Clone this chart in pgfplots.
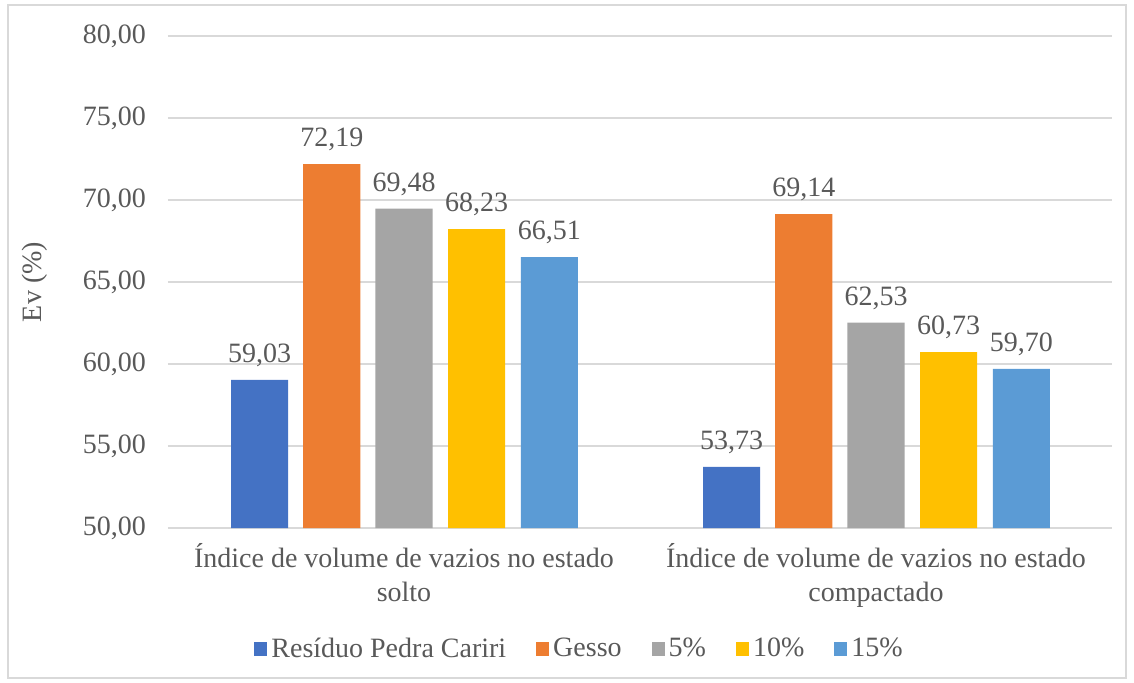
\documentclass[border=0pt]{standalone}
\usepackage{pgfplots}
\pgfplotsset{compat=1.18}
\usepackage{fontspec}
\setmainfont{Liberation Serif}
\definecolor{c1}{HTML}{4472C4}
\definecolor{c2}{HTML}{ED7D31}
\definecolor{c3}{HTML}{A5A5A5}
\definecolor{c4}{HTML}{FFC000}
\definecolor{c5}{HTML}{5B9BD5}
\definecolor{txt}{RGB}{89,89,89}
\definecolor{grd}{RGB}{217,217,217}
\newcommand{\fs}{\fontsize{14}{17}\selectfont}
\begin{document}
\begin{tikzpicture}
\useasboundingbox (-84pt,-77pt) rectangle (483pt,264pt);
\draw[grd, line width=0.8pt] (-80pt,-75pt) rectangle (479pt,261.5pt);
\begin{axis}[
  scale only axis, width=472pt, height=246pt,
  xmin=-0.5, xmax=1.5, ymin=50, ymax=80,
  ytick={50,55,...,80},
  xtick={0,1},
  xticklabels={{Índice de volume de vazios no estado\\solto},{Índice de volume de vazios no estado\\compactado}},
  xticklabel style={align=center, font=\fs, text=txt, yshift=-4pt},
  yticklabel style={font=\fs, text=txt, xshift=-7.5pt},
  /pgf/number format/.cd, fixed, fixed zerofill, precision=2, use comma, 1000 sep={}, assume math mode=true,
  /pgfplots/.cd,
  ymajorgrids, grid style={grd, line width=0.8pt},
  major tick length=0pt,
  axis line style={draw=none},
  ylabel={Ev (\%)},
  ylabel style={at={(axis description cs:-0.1409,0.5)}, anchor=center, font=\fs, text=txt},
  ybar, bar width=0.121,
  nodes near coords,
  every node near coord/.append style={font=\fs, text=txt, yshift=3pt},
  legend columns=5,
  legend style={draw=none, at={(0.437,-0.246)}, anchor=center, font=\fs, text=txt,
    /tikz/every even column/.append style={column sep=13pt},
    legend cell align=left},
  legend image code/.code={\fill[#1] (0pt,-3.3pt) rectangle (6.5pt,3.3pt);},
]
\draw[grd, line width=0.8pt] (rel axis cs:0,0) -- (rel axis cs:1,0);
\addplot[fill=c1, draw=none, bar shift=-0.306] coordinates {(0,59.03) (1,53.73)};
\addplot[fill=c2, draw=none, bar shift=-0.153] coordinates {(0,72.19) (1,69.14)};
\addplot[fill=c3, draw=none, bar shift=0] coordinates {(0,69.48) (1,62.53)};
\addplot[fill=c4, draw=none, bar shift=0.154] coordinates {(0,68.23) (1,60.73)};
\addplot[fill=c5, draw=none, bar shift=0.308] coordinates {(0,66.51) (1,59.70)};
\legend{Resíduo Pedra Cariri, Gesso, 5\%, 10\%, 15\%}
\end{axis}
\end{tikzpicture}
\end{document}
